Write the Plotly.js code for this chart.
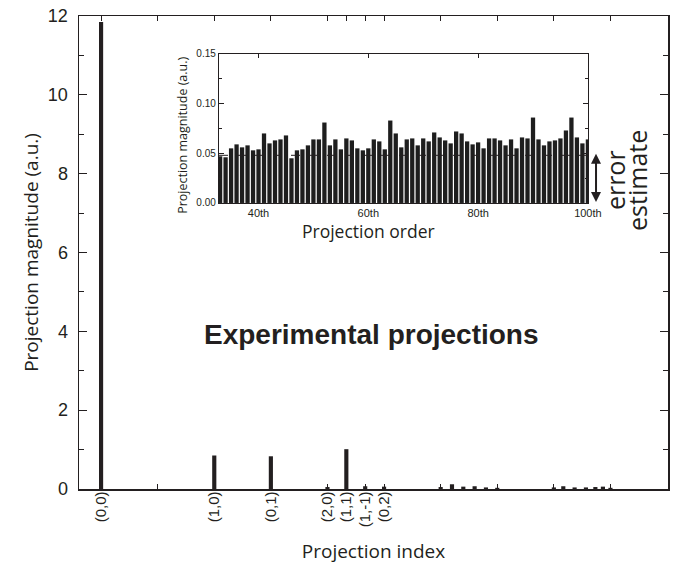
<!DOCTYPE html>
<html><head><script src="https://cdn.plot.ly/plotly-3.0.1.min.js"></script></head>
<body style="margin:0;background:#fff"><div id="chart" style="width:679px;height:567px"></div>
<script>
// Main chart data
const mainPositions = [0, 6, 9, 12, 13, 14, 15, 18, 18.6, 19.2, 19.8, 20.4, 21, 24, 24.5, 25.1, 25.7, 26.2, 26.6, 27];
const mainValues = [11.85, 0.85, 0.83, 0.05, 1.01, 0.07, 0.06, 0.05, 0.12, 0.06, 0.07, 0.04, 0.03, 0.04, 0.07, 0.04, 0.04, 0.05, 0.06, 0.03];
const tickPositions = [0, 3, 6, 9, 12, 13, 14, 15, 18, 21, 24, 27, 30];
const tickLabels = ['(0,0)', '', '(1,0)', '(0,1)', '(2,0)', '(1,1)', '(1,-1)', '(0,2)', '', '', '', '', ''];

// Inset data
const insetOrders = [33,34,35,36,37,38,39,40,41,42,43,44,45,46,47,48,49,50,51,52,53,54,55,56,57,58,59,60,61,62,63,64,65,66,67,68,69,70,71,72,73,74,75,76,77,78,79,80,81,82,83,84,85,86,87,88,89,90,91,92,93,94,95,96,97,98,99,100];
const insetValues = [0.047,0.046,0.055,0.059,0.056,0.058,0.053,0.054,0.070,0.060,0.063,0.064,0.068,0.045,0.053,0.054,0.058,0.064,0.064,0.081,0.058,0.064,0.054,0.065,0.063,0.055,0.053,0.055,0.064,0.062,0.054,0.083,0.070,0.056,0.064,0.065,0.058,0.065,0.062,0.071,0.066,0.063,0.060,0.072,0.070,0.062,0.059,0.061,0.055,0.065,0.065,0.063,0.058,0.064,0.055,0.066,0.065,0.086,0.064,0.058,0.062,0.063,0.065,0.073,0.086,0.066,0.060,0.064];
const insetTickVals = [40, 60, 80, 100];
const insetTickText = ['40th', '60th', '80th', '100th'];
const errorLevel = 0.048;
const errorTop = 0.051;

const ink = '#231f20';
const axisFont = {family: 'Liberation Sans, Arial, sans-serif', color: ink};
const titleFamily = 'Open Sans, sans-serif';

const traces = [
  {type: 'bar', x: mainPositions, y: mainValues, width: 0.22, marker: {color: ink}, xaxis: 'x', yaxis: 'y'},
  {type: 'bar', x: insetOrders, y: insetValues, width: 0.78, marker: {color: '#1e1e1e'}, xaxis: 'x2', yaxis: 'y2'}
];

const layout = {
  width: 679, height: 567,
  margin: {l: 79, r: 11, t: 16, b: 78},
  paper_bgcolor: '#fff', plot_bgcolor: '#fff',
  showlegend: false,
  xaxis: {
    range: [-1.17, 30.05], tickmode: 'array', tickvals: tickPositions, ticktext: tickLabels,
    tickangle: -90, ticks: 'inside', ticklen: 5, tickcolor: ink,
    showline: true, linecolor: ink, linewidth: 1.5, mirror: 'ticks',
    showgrid: false, zeroline: false, ticklabelstandoff: -5,
    tickfont: Object.assign({size: 15}, axisFont),
    title: {text: 'Projection index', font: {family: titleFamily, size: 19, color: ink}, standoff: 18}
  },
  yaxis: {
    range: [0, 12], dtick: 2, ticks: 'inside', ticklen: 8, tickcolor: ink,
    minor: {ticks: 'inside', dtick: 1, ticklen: 5, tickcolor: ink},
    showline: true, linecolor: ink, linewidth: 1.5, mirror: 'ticks',
    showgrid: false, zeroline: false, ticklabelstandoff: 6,
    tickfont: Object.assign({size: 18}, axisFont),
    title: {text: 'Projection magnitude (a.u.)', font: {family: titleFamily, size: 19, color: ink}, standoff: 4}
  },
  xaxis2: {
    domain: [0.2377, 0.864], anchor: 'y2', range: [32.8, 100],
    tickmode: 'array', tickvals: insetTickVals, ticktext: insetTickText,
    ticks: 'inside', ticklen: 4, tickcolor: ink,
    showline: true, linecolor: ink, linewidth: 1.2, mirror: 'ticks',
    showgrid: false, zeroline: false,
    tickfont: Object.assign({size: 11}, axisFont)
  },
  yaxis2: {
    domain: [0.6047, 0.9197], anchor: 'x2', range: [0, 0.15], dtick: 0.05, tickformat: '.2f',
    ticks: 'inside', ticklen: 5, tickcolor: ink,
    minor: {ticks: 'inside', dtick: 0.025, ticklen: 3, tickcolor: ink},
    showline: true, linecolor: ink, linewidth: 1.2, mirror: 'ticks',
    showgrid: false, zeroline: false,
    tickfont: Object.assign({size: 10}, axisFont)
  },
  shapes: [
    {type: 'line', xref: 'x2 domain', yref: 'y2', x0: 0, x1: 1, y0: errorLevel, y1: errorLevel,
     line: {color: ink, width: 1, dash: 'dash'}}
  ],
  annotations: [
    {xref: 'paper', yref: 'paper', x: 0.496, y: 0.326, xanchor: 'center', yanchor: 'middle',
     text: '<b>Experimental projections</b>', showarrow: false,
     font: {family: 'Liberation Sans, Arial, sans-serif', size: 28, color: ink}},
    {xref: 'paper', yref: 'paper', x: 0.491, y: 0.545, xanchor: 'center', yanchor: 'middle',
     text: 'Projection order', showarrow: false,
     font: {family: titleFamily, size: 17.5, color: ink}},
    {xref: 'paper', yref: 'paper', x: 0.176, y: 0.748, xanchor: 'center', yanchor: 'middle',
     text: 'Projection magnitude (a.u.)', textangle: -90, showarrow: false,
     font: {family: titleFamily, size: 12.5, color: ink}},
    {xref: 'paper', yref: 'y2', x: 0.8778, y: 0.001, axref: 'pixel', ayref: 'y2', ax: 0, ay: errorTop,
     text: '', showarrow: true, arrowside: 'end+start', arrowhead: 2, arrowsize: 1, arrowwidth: 2, arrowcolor: ink},
    {xref: 'paper', yref: 'paper', x: 0.9100, y: 0.653, xanchor: 'center', yanchor: 'middle',
     text: 'error', textangle: -90, showarrow: false,
     font: {family: titleFamily, size: 25, color: ink}},
    {xref: 'paper', yref: 'paper', x: 0.947, y: 0.653, xanchor: 'center', yanchor: 'middle',
     text: 'estimate', textangle: -90, showarrow: false,
     font: {family: titleFamily, size: 25, color: ink}}
  ]
};

Plotly.newPlot('chart', traces, layout, {displayModeBar: false, staticPlot: true});
</script></body></html>
